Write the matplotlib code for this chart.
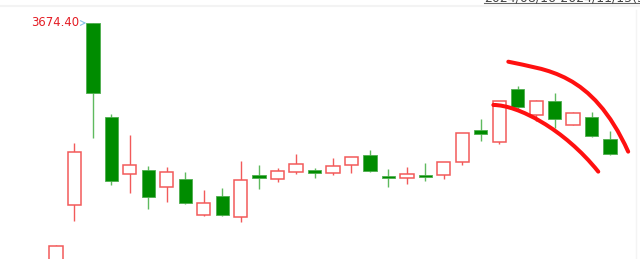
import numpy as np
import matplotlib
matplotlib.use("Agg")
import matplotlib.pyplot as plt
from matplotlib.path import Path
from matplotlib.patches import PathPatch

# daily candles, 2024-09-27 .. 2024-11-15 (index 0 = first candle)
opens = [2806.0, 3193.1, 3674.4, 3425.4, 3275.8, 3285.5, 3240.6, 3263.4, 3166.7, 3217.7,
         3163.0, 3273.1, 3261.8, 3281.8, 3285.5, 3278.4, 3298.7, 3325.9, 3271.3, 3266.0,
         3273.1, 3273.9, 3306.6, 3392.7, 3359.4, 3500.2, 3431.5, 3468.5, 3405.1, 3427.0,
         3367.4]
highs = [3087.5, 3356.8, 3674.4, 3434.2, 3378.7, 3296.9, 3293.4, 3281.8, 3234.3, 3239.6,
         3310.9, 3299.5, 3292.4, 3328.6, 3290.8, 3317.2, 3321.0, 3339.1, 3289.0, 3293.4,
         3304.0, 3308.2, 3384.8, 3420.2, 3467.7, 3508.9, 3471.1, 3488.8, 3440.2, 3439.4,
         3389.3]
lows = [2797.0, 3152.5, 3371.6, 3247.5, 3226.4, 3184.2, 3202.6, 3197.5, 3164.7, 3165.0,
        3149.8, 3237.0, 3253.9, 3275.0, 3264.4, 3274.0, 3278.4, 3281.8, 3242.2, 3250.2,
        3257.3, 3261.8, 3299.5, 3363.7, 3354.2, 3441.3, 3416.5, 3398.0, 3404.0, 3374.2,
        3327.0]
closes = [3085.0, 3333.0, 3489.6, 3257.3, 3298.7, 3215.8, 3281.8, 3199.2, 3199.2, 3166.7,
          3259.1, 3266.0, 3283.7, 3301.4, 3278.4, 3297.7, 3320.6, 3284.5, 3264.4, 3276.6,
          3268.6, 3308.2, 3384.8, 3382.2, 3467.7, 3451.8, 3468.5, 3420.2, 3437.6, 3376.9,
          3328.6]

max_label = "3674.40"
range_label = "2024/08/16-2024/11/15(59)"

# hand drawn red marks as bezier control points (candle index, price)
upper_ctrl = [(24.49, 3572.2), (26.5, 3550.0), (29.0, 3548.0), (30.98, 3334.8)]
lower_ctrl = [(23.68, 3458.0), (25.0, 3458.0), (27.5, 3395.0), (29.36, 3282.0)]

up_red = "#f25a5a"
down_green = "#008c00"
wick_green = "#5fba5f"

fig = plt.figure(figsize=(6.4, 2.59), dpi=100)
ax = fig.add_axes([0, 0, 1, 1])

o = np.array(opens)
h = np.array(highs)
l = np.array(lows)
c = np.array(closes)
x = np.arange(len(o))
up = c >= o
w = 0.72

# wicks
ax.vlines(x[up], l[up], h[up], color=up_red, lw=1.0, zorder=1)
ax.vlines(x[~up], l[~up], h[~up], color=wick_green, lw=1.0, zorder=1)

# bodies
body_lo = np.minimum(o, c)
body_h = np.maximum(np.abs(c - o), 1.5)
ax.bar(x[up], body_h[up], bottom=body_lo[up], width=w, facecolor="white",
       edgecolor=up_red, linewidth=1.1, zorder=2)
ax.bar(x[~up], body_h[~up], bottom=body_lo[~up], width=w, facecolor=down_green,
       edgecolor="#4fae4f", linewidth=0.6, zorder=2)

# max price marker
imax = int(np.argmax(h))
ax.annotate(max_label, xy=(imax - w / 2, h[imax]), xytext=(imax - 0.72, h[imax]),
            ha="right", va="center", fontsize=8.4, color="#e41c24",
            arrowprops=dict(arrowstyle="->", color="#8cc4e8", lw=0.8,
                            shrinkA=1, shrinkB=0))

# red hand drawn curves
codes = [Path.MOVETO, Path.CURVE4, Path.CURVE4, Path.CURVE4]
for ctrl in (upper_ctrl, lower_ctrl):
    ax.add_patch(PathPatch(Path(ctrl, codes), facecolor="none", edgecolor="#ff1010",
                           lw=2.9, capstyle="round", zorder=5))

ax.set_xlim(-3.03, 31.62)
ax.set_ylim(3051.4, 3735.1)
ax.axis("off")

# frame bits around the chart
fig.add_artist(plt.Line2D([0, 1], [1 - 5.5 / 259] * 2, color="#f3f3f3", lw=1.5))
fig.add_artist(plt.Line2D([636 / 640] * 2, [0, 1 - 10 / 259], color="#f4f4f4", lw=1.0))
fig.text(484 / 640, 1 - 1.5 / 259, range_label, fontsize=9, color="#444444",
         ha="left", va="baseline")
fig.add_artist(plt.Line2D([484 / 640, 1], [1 - 3.0 / 259] * 2, color="#666666", lw=0.8))

fig.savefig("out.png", dpi=100, facecolor="white")
